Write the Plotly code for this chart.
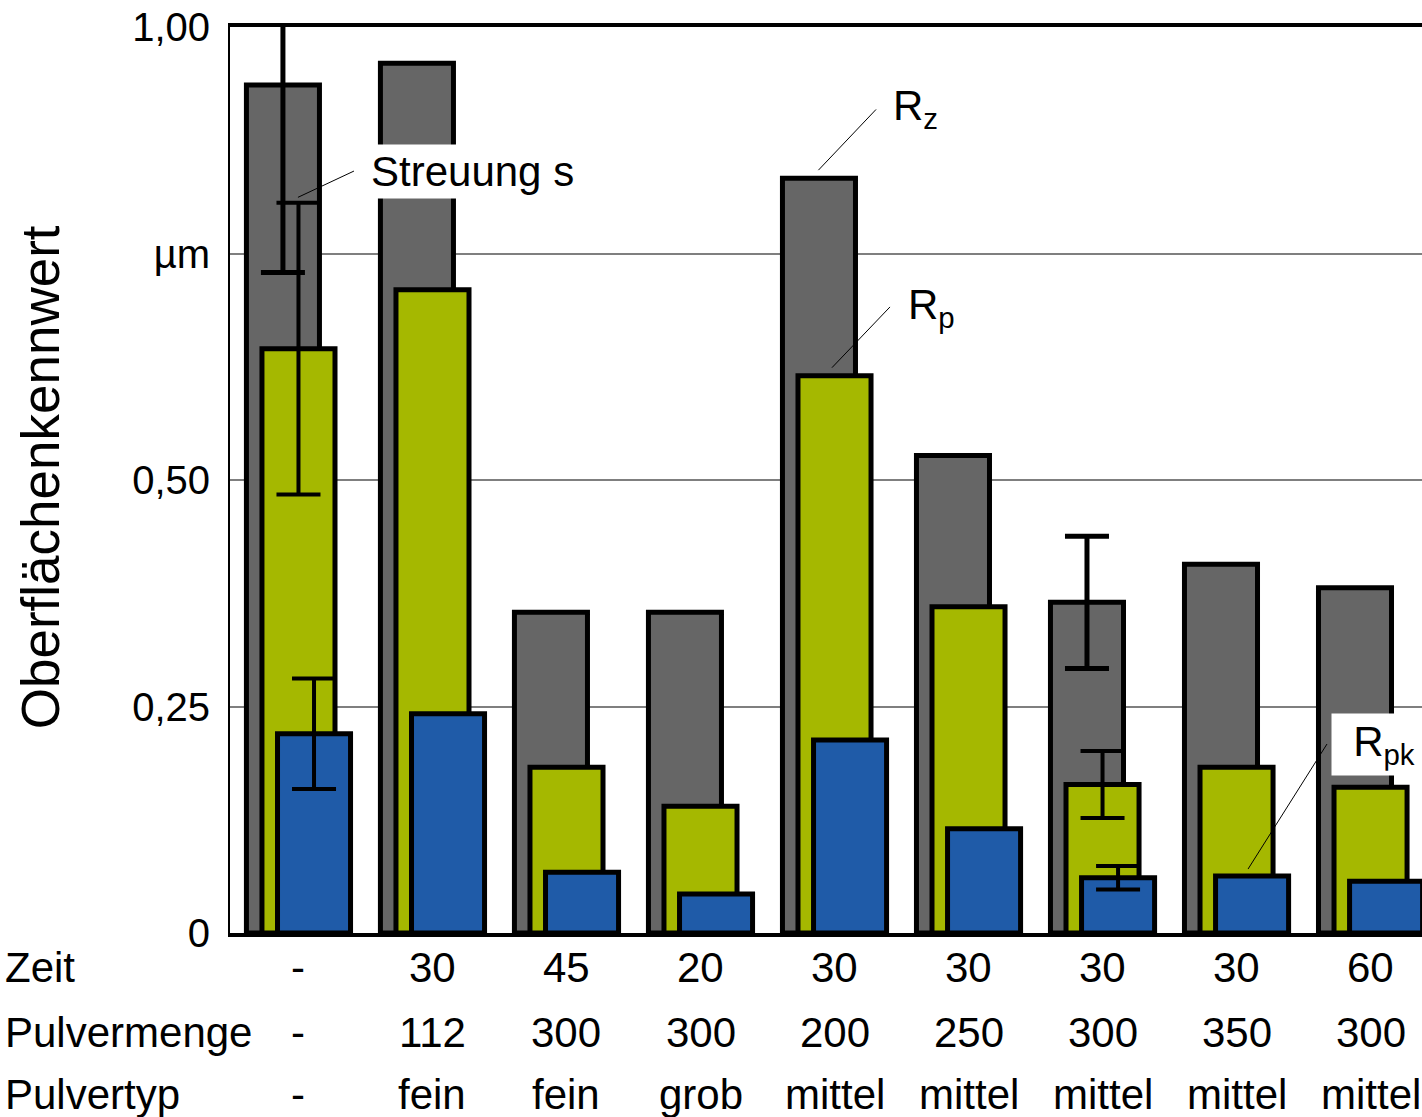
import plotly.graph_objects as go

# ---------------- data ----------------
zeit = ["-", "30", "45", "20", "30", "30", "30", "30", "60"]
pulvermenge = ["-", "112", "300", "300", "200", "250", "300", "350", "300"]
pulvertyp = ["-", "fein", "fein", "grob", "mittel", "mittel", "mittel", "mittel", "mittel"]
row_labels = ["Zeit", "Pulvermenge", "Pulvertyp"]

rz = [0.936, 0.960, 0.354, 0.354, 0.833, 0.527, 0.365, 0.407, 0.381]
rp = [0.645, 0.710, 0.183, 0.140, 0.615, 0.360, 0.164, 0.183, 0.161]
rpk = [0.220, 0.242, 0.067, 0.043, 0.213, 0.115, 0.061, 0.063, 0.057]

# Streuung s (scatter) given for two settings only
s_idx = [0, 6]
s_rz = [0.207, 0.073]
s_rp = [0.161, 0.037]
s_rpk = [0.061, 0.013]

ytick_vals = [0, 0.25, 0.5, 0.75, 1.0]
ytick_text = ["0", "0,25", "0,50", "µm", "1,00"]

# ---------------- style ----------------
FONT = "Liberation Sans, Arial, Helvetica, sans-serif"
C_RZ = "#666666"
C_RP = "#A5B800"
C_RPK = "#1F5BA8"
W = 0.545           # bar width (category units)
SH = 0.116          # shift between overlapping bars
shifts = [-SH, 0.0, SH]

x = list(range(len(rz)))

fig = go.Figure()
for vals, col, sh, nm in [(rz, C_RZ, shifts[0], "Rz"),
                          (rp, C_RP, shifts[1], "Rp"),
                          (rpk, C_RPK, shifts[2], "Rpk")]:
    fig.add_trace(go.Bar(
        x=x, y=vals, name=nm, offset=sh - W / 2, width=W,
        marker=dict(color=col, line=dict(color="black", width=5)),
        showlegend=False,
    ))

for errs, vals, sh, th in [(s_rz, rz, shifts[0], 5),
                           (s_rp, rp, shifts[1], 4),
                           (s_rpk, rpk, shifts[2], 4)]:
    fig.add_trace(go.Scatter(
        x=[i + sh for i in s_idx], y=[vals[i] for i in s_idx],
        mode="markers", marker=dict(size=2, color="rgba(0,0,0,0)"),
        error_y=dict(type="data", array=errs, symmetric=True,
                     thickness=th, width=22, color="black"),
        showlegend=False, hoverinfo="skip",
    ))

# ---------------- annotations ----------------
ann = []
txt_font = dict(family=FONT, size=42, color="black")

# table below the chart
row_y = [-0.0386, -0.1093, -0.1788]
for ry, lab, row in zip(row_y, row_labels, [zeit, pulvermenge, pulvertyp]):
    ann.append(dict(xref="paper", yref="paper", x=-0.1904, y=ry, text=lab,
                    xanchor="left", yanchor="middle", showarrow=False, font=txt_font))
    for i, t in enumerate(row):
        ann.append(dict(xref="x", yref="paper", x=i, y=ry, text=t,
                        xanchor="center", yanchor="middle", showarrow=False, font=txt_font))

# y axis title
ann.append(dict(xref="paper", yref="paper", x=-0.1594, y=0.503, text="Oberflächenkennwert",
                textangle=-90, showarrow=False, xanchor="center", yanchor="middle",
                font=dict(family=FONT, size=53, color="black")))

# series labels
ann.append(dict(xref="x", yref="y", x=0.51, y=0.841, text="Streuung s",
                xanchor="left", yanchor="middle", showarrow=False, font=txt_font,
                bgcolor="white", borderpad=3))
ann.append(dict(xref="x", yref="y", x=4.425, y=0.910, text="R<sub>z</sub>",
                xanchor="left", yanchor="middle", showarrow=False, font=txt_font))
ann.append(dict(xref="x", yref="y", x=4.535, y=0.690, text="R<sub>p</sub>",
                xanchor="left", yanchor="middle", showarrow=False, font=txt_font))
ann.append(dict(xref="x", yref="y", x=7.705, y=0.2086, text="R<sub>pk</sub>",
                xanchor="left", yanchor="middle", showarrow=False, font=txt_font,
                bgcolor="white", borderpad=4, width=96, align="center"))

# leader lines
leaders = [((-0.004, 0.812), (0.414, 0.841)),
           ((3.880, 0.842), (4.310, 0.909)),
           ((3.981, 0.624), (4.414, 0.691)),
           ((7.086, 0.0706), (7.675, 0.2086))]
shapes = []
for (x0, y0), (x1, y1) in leaders:
    shapes.append(dict(type="line", xref="x", yref="y", x0=x0, y0=y0, x1=x1, y1=y1,
                       line=dict(color="black", width=1)))

fig.update_layout(
    width=1422, height=1117,
    margin=dict(l=230, r=0, t=27, b=184),
    paper_bgcolor="white", plot_bgcolor="white",
    barmode="overlay",
    font=dict(family=FONT, color="black"),
    annotations=ann, shapes=shapes,
    xaxis=dict(range=[-0.511, 8.384], showticklabels=False, ticks="",
               showgrid=False, zeroline=False, showline=True, mirror=True,
               linecolor="black", linewidth=4, fixedrange=True),
    yaxis=dict(range=[0, 1], tickvals=ytick_vals, ticktext=ytick_text,
               ticks="", ticklabelstandoff=10, ticklabeloverflow="allow",
               tickfont=dict(family=FONT, size=40, color="black"),
               showgrid=True, gridcolor="#7f7f7f", gridwidth=1.5,
               zeroline=False, showline=True, linecolor="black", linewidth=2,
               fixedrange=True),
)

# remove the default page margin so the 1422x1117 figure fills the window exactly
fig.write_html("out.html",
               config={"displayModeBar": False},
               post_script="document.body.style.margin='0';document.body.style.overflow='hidden';")
